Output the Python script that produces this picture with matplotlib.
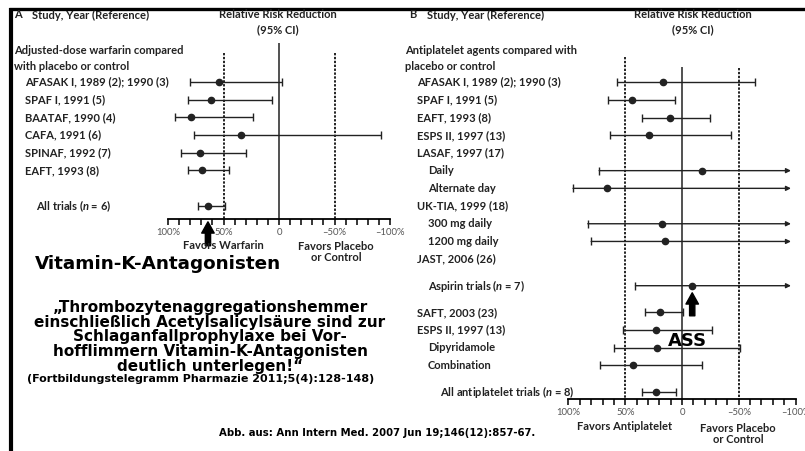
import matplotlib
matplotlib.use("Agg")
import matplotlib.pyplot as plt
from matplotlib.lines import Line2D

# ---------------- data ----------------
warf_labels = ["AFASAK I, 1989 (2); 1990 (3)", "SPAF I, 1991 (5)", "BAATAF, 1990 (4)",
               "CAFA, 1991 (6)", "SPINAF, 1992 (7)", "EAFT, 1993 (8)", "All trials ($n$ = 6)"]
warf_rrr = [54, 61, 79, 34, 71, 69, 64]
warf_ci_upper = [80, 82, 94, 77, 88, 82, 73]
warf_ci_lower = [-3, 6, 23, -92, 30, 45, 49]

ap_labels = ["AFASAK I, 1989 (2); 1990 (3)", "SPAF I, 1991 (5)", "EAFT, 1993 (8)",
             "ESPS II, 1997 (13)", "LASAF, 1997 (17)", "Daily", "Alternate day",
             "UK-TIA, 1999 (18)", "300 mg daily", "1200 mg daily", "JAST, 2006 (26)",
             "Aspirin trials ($n$ = 7)", "SAFT, 2003 (23)", "ESPS II, 1997 (13)",
             "Dipyridamole", "Combination", "All antiplatelet trials ($n$ = 8)"]
ap_rrr = [17, 44, 11, 29, None, -18, 66, None, 18, 15, None, -9, 19, 23, 22, 43, 23]
ap_ci_upper = [57, 65, 35, 63, None, 73, 96, None, 83, 80, None, 41, 33, 52, 60, 72, 35]
ap_ci_lower = [-64, 6, -25, -43, None, None, None, None, None, None, None, None, -1, -26, -51, -18, 5]

tick_values = [100, 50, 0, -50, -100]
tick_labels = ["100%", "50%", "0", "\u201350%", "\u2013100%"]

# ---------------- layout ----------------
W, H = 805, 451
fig = plt.figure(figsize=(W / 100, H / 100), dpi=100)
plt.rcParams["mathtext.fontset"] = "custom"
plt.rcParams["mathtext.it"] = "Lato:italic:bold"
plt.rcParams["mathtext.rm"] = "Lato:bold"

def fx(px):
    return px / W

def fy(py):
    return 1 - py / H

LAB = dict(family="Lato", weight="bold", fontsize=8.0, color="#222222")
BIG = dict(family="DejaVu Sans", weight="bold", color="black")

warf_rows = [0, 1, 2, 3, 4, 5, 7]
ap_rows = [0, 1, 2, 3, 4, 5, 6, 7, 8, 9, 10, 11.5, 13, 14, 15, 16, 17.5]
ap_indent = [0, 0, 0, 0, 0, 1, 1, 0, 1, 1, 0, 1, 0, 0, 1, 1, 2]

ARROW_TIP = -96


def style_axis(ax):
    ax.set_xlim(100, -100)
    for s in ("top", "left", "right"):
        ax.spines[s].set_visible(False)
    ax.spines["bottom"].set_linewidth(1.3)
    ax.set_yticks([])
    ax.set_xticks(range(-100, 101, 10))
    ax.set_xticklabels([tick_labels[tick_values.index(v)] if v in tick_values else ""
                        for v in range(-100, 101, 10)])
    ax.tick_params(axis="x", direction="out", length=4.5, width=1.1, pad=2,
                   labelsize=6.8, labelcolor="#555555")
    for t in ax.get_xticklabels():
        t.set_family("Lato")
    ax.patch.set_visible(False)


# ---------------- panel A ----------------
ax1 = fig.add_axes([fx(168), fy(219), fx(390 - 168), (219 - 43) / H])
style_axis(ax1)
ax1.set_ylim(7.74, -2.2)
ax1.axvline(0, color="#222222", lw=1.1)
for v in (50, -50):
    ax1.vlines(v, -1.64, 7.74, color="#222222", lw=1.4, linestyles=(0, (1.2, 0.8)))

for r, m, up, lo in zip(warf_rows, warf_rrr, warf_ci_upper, warf_ci_lower):
    ax1.errorbar([m], [r], xerr=[[m - lo], [up - m]], fmt="o", color="#222222",
                 ms=4.5, lw=1.0, capsize=2.6, capthick=1.0, elinewidth=1.0)

# ---------------- panel B ----------------
ax2 = fig.add_axes([fx(568.5), fy(399), fx(227), (399 - 57) / H])
style_axis(ax2)
ax2.set_ylim(17.9, -1.42)
ax2.vlines(50, -1.42, 17.9, color="#222222", lw=1.4, linestyles=(0, (1.2, 0.8)))
ax2.vlines(-50, -0.79, 17.9, color="#222222", lw=1.4, linestyles=(0, (1.2, 0.8)))
ax2.vlines(0, -0.85, 17.9, color="#222222", lw=1.1)

for r, m, up, lo in zip(ap_rows, ap_rrr, ap_ci_upper, ap_ci_lower):
    if m is None:
        continue
    if lo is not None:
        ax2.errorbar([m], [r], xerr=[[m - lo], [up - m]], fmt="o", color="#222222",
                     ms=4.5, lw=1.0, capsize=2.6, capthick=1.0, elinewidth=1.0)
    else:
        ax2.annotate("", xy=(ARROW_TIP, r), xytext=(up, r),
                     arrowprops=dict(arrowstyle="-|>", lw=1.0, color="#222222",
                                     mutation_scale=7, shrinkA=0, shrinkB=0))
        ax2.plot([up], [r], marker="|", ms=5.5, mew=1.0, color="#222222")
        ax2.plot([m], [r], "o", ms=4.5, color="#222222")

# ---------------- labels ----------------
trA = matplotlib.transforms.blended_transform_factory(fig.transFigure, ax1.transData)
trB = matplotlib.transforms.blended_transform_factory(fig.transFigure, ax2.transData)

for r, lab in zip(warf_rows, warf_labels):
    x = 36 if "trials" in lab else 25
    ax1.text(fx(x), r, lab, transform=trA, ha="left", va="center", **LAB)

for r, lab, ind in zip(ap_rows, ap_labels, ap_indent):
    x = [417, 428, 440][ind]
    ax2.text(fx(x), r, lab, transform=trB, ha="left", va="center", **LAB)

# headers
for x0, letter, cx, l1, l2 in ((14, "A", 278, "Adjusted-dose warfarin compared", "with placebo or control"),
                               (409, "B", 693, "Antiplatelet agents compared with", "placebo or control")):
    fig.text(fx(x0), fy(15), letter, ha="left", va="center", **LAB)
    fig.text(fx(x0 + 18), fy(15), "Study, Year (Reference)", ha="left", va="center", **LAB)
    fig.text(fx(cx), fy(15), "Relative Risk Reduction", ha="center", va="center", **LAB)
    fig.text(fx(cx), fy(30), "(95% CI)", ha="center", va="center", **LAB)
    xg = 14 if letter == "A" else 405
    fig.text(fx(xg), fy(51), l1, ha="left", va="center", **LAB)
    fig.text(fx(xg), fy(66), l2, ha="left", va="center", **LAB)

fig.text(fx(223), fy(246), "Favors Warfarin", ha="center", va="center", **LAB)
fig.text(fx(336), fy(252), "Favors Placebo\nor Control", ha="center", va="center",
         linespacing=1.05, **LAB)
fig.text(fx(625), fy(427), "Favors Antiplatelet", ha="center", va="center", **LAB)
fig.text(fx(738), fy(434), "Favors Placebo\nor Control", ha="center", va="center",
         linespacing=1.05, **LAB)

# ---------------- annotations ----------------
fat = dict(arrowstyle="simple,head_length=0.9,head_width=1.0,tail_width=0.42",
           color="black", mutation_scale=9, shrinkA=0, shrinkB=0)
all_trials = warf_rrr[-1]
ax1.annotate("", xy=(all_trials, 7.9), xytext=(all_trials, 9.25), arrowprops=fat,
             annotation_clip=False)
aspirin_idx = 11
ax2.annotate("", xy=(ap_rrr[aspirin_idx], ap_rows[aspirin_idx] + 0.4),
             xytext=(ap_rrr[aspirin_idx], ap_rows[aspirin_idx] + 1.7), arrowprops=fat,
             annotation_clip=False)

fig.text(fx(35), fy(264), "Vitamin-K-Antagonisten", ha="left", va="center", fontsize=13.2, **BIG)
fig.text(fx(687), fy(341), "ASS", ha="center", va="center", fontsize=13, **BIG)

quote = ("\u201eThrombozytenaggregationshemmer\n"
         "einschlie\u00dflich Acetylsalicyls\u00e4ure sind zur\n"
         "Schlaganfallprophylaxe bei Vor-\n"
         "hofflimmern Vitamin-K-Antagonisten\n"
         "deutlich unterlegen!\u201c")
fig.text(fx(210), fy(337), quote, ha="center", va="center", fontsize=11,
         linespacing=0.98, **BIG)
fig.text(fx(201), fy(379), "(Fortbildungstelegramm Pharmazie 2011;5(4):128-148)",
         ha="center", va="center", fontsize=8, **BIG)
fig.text(fx(377), fy(433), "Abb. aus: Ann Intern Med. 2007 Jun 19;146(12):857-67.",
         ha="center", va="center", fontsize=7.3, **BIG)

# ---------------- frame ----------------
fig.add_artist(Line2D([fx(9), 1.0], [fy(9), fy(9)], transform=fig.transFigure,
                      color="black", lw=2.4, solid_capstyle="butt"))
fig.add_artist(Line2D([fx(11), fx(11)], [fy(7.5), 0.0], transform=fig.transFigure,
                      color="black", lw=3.0, solid_capstyle="butt"))

fig.savefig("out.png", dpi=100)
